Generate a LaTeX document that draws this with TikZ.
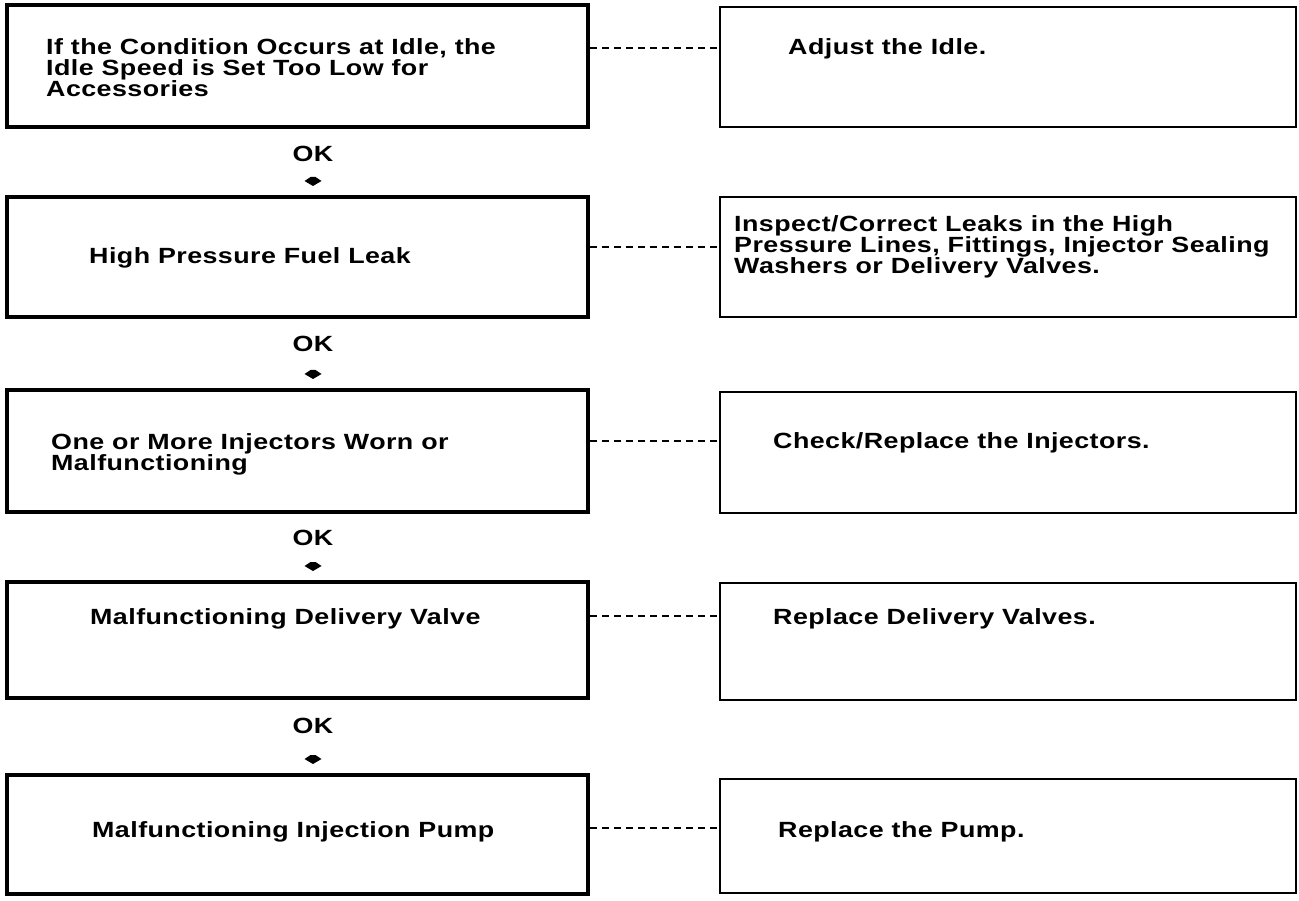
\documentclass[tikz,border=0pt]{standalone}
\usepackage{fontspec}
\setmainfont{Liberation Sans}[FakeStretch=1.22,LetterSpace=2]
\begin{document}
\begin{tikzpicture}[x=1pt,y=-1pt,
  cause/.style={draw,line width=4pt,inner sep=0pt},
  remedy/.style={draw,line width=2.3pt,inner sep=0pt},
  txt/.style={font=\bfseries\fontsize{22}{21}\selectfont,anchor=base west,inner sep=0pt},
  oklabel/.style={font=\bfseries\fontsize{22}{21}\selectfont,inner sep=0pt,anchor=base},
  link/.style={line width=1.6pt,dash pattern=on 7pt off 5pt},
  pointer/.pic={\fill (-2.5,-4) -- (2.5,-4) -- (8.5,0) -- (0,5) -- (-8.5,0) -- cycle;}
]
\useasboundingbox (0,0) rectangle (1299,901);

% cause boxes (left column)
\node[cause,minimum width=581pt,minimum height=122pt] (L1) at (297.5,66) {};
\node[cause,minimum width=581pt,minimum height=120pt] (L2) at (297.5,257) {};
\node[cause,minimum width=581pt,minimum height=122pt] (L3) at (297.5,451) {};
\node[cause,minimum width=581pt,minimum height=116pt] (L4) at (297.5,640) {};
\node[cause,minimum width=581pt,minimum height=119pt] (L5) at (297.5,834.5) {};

% remedy boxes (right column)
\node[remedy,minimum width=576pt,minimum height=120pt] (R1) at (1008,67) {};
\node[remedy,minimum width=576pt,minimum height=120pt] (R2) at (1008,257) {};
\node[remedy,minimum width=576pt,minimum height=121pt] (R3) at (1008,452.5) {};
\node[remedy,minimum width=576pt,minimum height=117pt] (R4) at (1008,641.5) {};
\node[remedy,minimum width=576pt,minimum height=114pt] (R5) at (1008,836) {};

% box texts
\node[txt] (t1) at (46,55) {\vtop{\lineskiplimit=-10pt\hbox{If the Condition Occurs at Idle, the}\hbox{Idle Speed is Set Too Low for}\hbox{Accessories}}};
\node[txt] (t2) at (89,264) {High Pressure Fuel Leak};
\node[txt] (t3) at (51,449) {\vtop{\lineskiplimit=-10pt\hbox{One or More Injectors Worn or}\hbox{Malfunctioning}}};
\node[txt] (t4) at (90,624) {Malfunctioning Delivery Valve};
\node[txt] (t5) at (92,837) {Malfunctioning Injection Pump};
\node[txt] (r1) at (788,55) {Adjust the Idle.};
\node[txt] (r2) at (734,232) {\vtop{\lineskiplimit=-10pt\hbox{Inspect/Correct Leaks in the High}\hbox{Pressure Lines, Fittings, Injector Sealing}\hbox{Washers or Delivery Valves.}}};
\node[txt] (r3) at (773,448) {Check/Replace the Injectors.};
\node[txt] (r4) at (773,624) {Replace Delivery Valves.};
\node[txt] (r5) at (778,837) {Replace the Pump.};

% OK labels and pointers between the causes
\node[oklabel] (ok1) at (313,162) {OK};
\node[oklabel] (ok2) at (313,352) {OK};
\node[oklabel] (ok3) at (313,545) {OK};
\node[oklabel] (ok4) at (313,733) {OK};
\pic at (313,181) {pointer};
\pic at (313,374) {pointer};
\pic at (313,566) {pointer};
\pic at (313,759) {pointer};

% dashed links from cause to remedy
\coordinate (d1) at (0,48);
\coordinate (d2) at (0,247);
\coordinate (d3) at (0,441);
\coordinate (d4) at (0,616);
\coordinate (d5) at (0,828);
\draw[link] (L1.east |- d1) -- (R1.west |- d1);
\draw[link] (L2.east |- d2) -- (R2.west |- d2);
\draw[link] (L3.east |- d3) -- (R3.west |- d3);
\draw[link] (L4.east |- d4) -- (R4.west |- d4);
\draw[link] (L5.east |- d5) -- (R5.west |- d5);
\end{tikzpicture}
\end{document}
